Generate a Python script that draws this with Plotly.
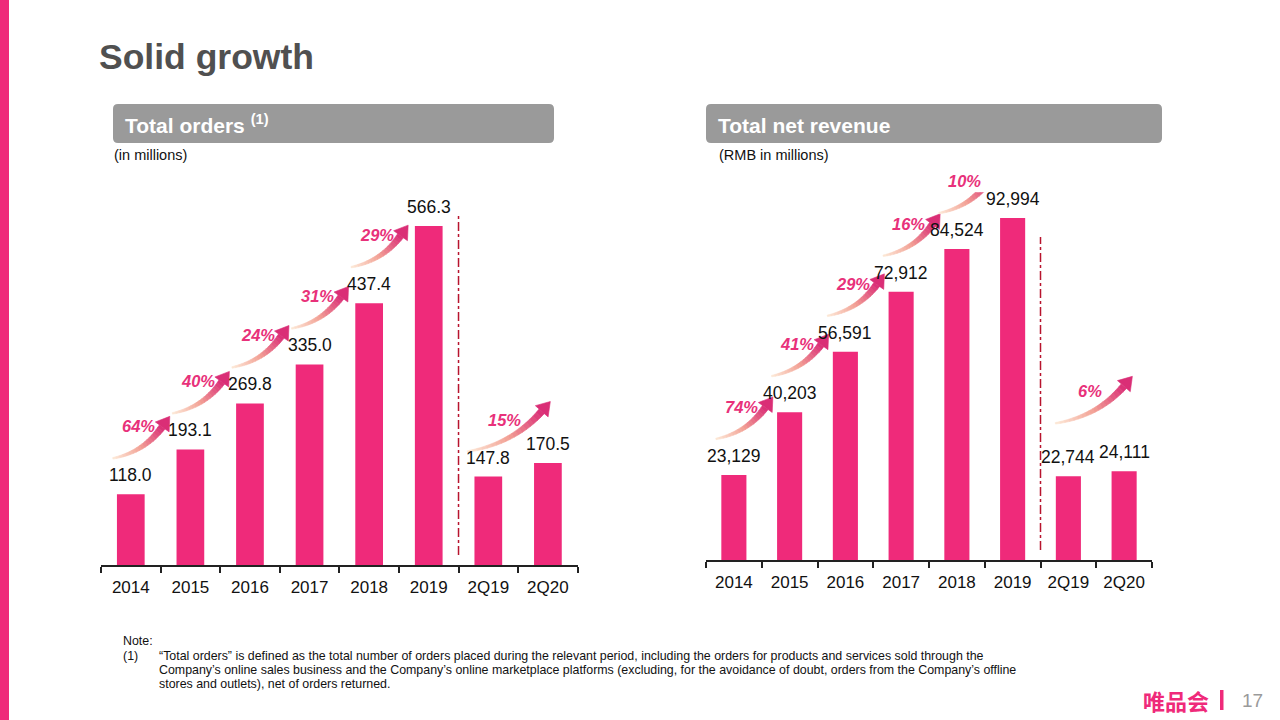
import numpy as np
import plotly.graph_objects as go

W, H = 1280, 720
def px(x): return x / W
def py(y): return 1 - y / H

# ---------------- data ----------------
categories = ["2014", "2015", "2016", "2017", "2018", "2019", "2Q19", "2Q20"]
orders = [118.0, 193.1, 269.8, 335.0, 437.4, 566.3, 147.8, 170.5]
revenue = [23129, 40203, 56591, 72912, 84524, 92994, 22744, 24111]
# growth arrows: (from index, label)
orders_growth_from = [0, 1, 2, 3, 4, 6]
orders_growth_text = ["64%", "40%", "24%", "31%", "29%", "15%"]
revenue_growth_from = [0, 1, 2, 3, 4, 6]
revenue_growth_text = ["74%", "41%", "29%", "16%", "10%", "6%"]

# ---------------- style ----------------
FONT = "Liberation Sans, Arial, Helvetica, sans-serif"
PINK = "#EF2A7A"
PCT_PINK = "#E8317A"
GRAY_BOX = "#9A9A9A"

fig = go.Figure()

fig.add_trace(go.Bar(x=categories, y=orders, marker=dict(color=PINK, line=dict(width=0)),
                     width=0.465, xaxis="x", yaxis="y", hoverinfo="skip"))
fig.add_trace(go.Bar(x=categories, y=revenue, marker=dict(color=PINK, line=dict(width=0)),
                     width=0.45, xaxis="x2", yaxis="y2", hoverinfo="skip"))

annotations = []
shapes = []

# value labels (category axis positions referenced by index)
for i, v in enumerate(orders):
    annotations.append(dict(x=i, y=v, xref="x", yref="y", text=f"{v:.1f}", showarrow=False,
                            yanchor="bottom", yshift=7, font=dict(size=17.5, color="#111", family=FONT)))
for i, v in enumerate(revenue):
    annotations.append(dict(x=i, y=v, xref="x2", yref="y2", text=f"{v:,}", showarrow=False,
                            yanchor="bottom", yshift=7, font=dict(size=17.5, color="#111", family=FONT)))


def lerp_col(t):
    stops = [(0.0, (253, 234, 216)), (0.5, (242, 160, 148)), (1.0, (218, 46, 118))]
    for (t0, c0), (t1, c1) in zip(stops[:-1], stops[1:]):
        if t <= t1:
            f = (t - t0) / (t1 - t0)
            c = [round(a + (b - a) * f) for a, b in zip(c0, c1)]
            return "rgb(%d,%d,%d)" % tuple(c)
    return "rgb(%d,%d,%d)" % stops[-1][1]


def add_arrow(xref, yref, xa, ya, ox, oy, w, h, label, n=18):
    P0 = np.array([ox, oy], float)
    T = np.array([ox + w, oy + h], float)
    C = np.array([ox + 0.55 * w, oy + 0.15 * h], float)
    u = (T - C) / np.linalg.norm(T - C)
    E = T - 13 * u
    ts = np.linspace(0, 1, n + 1)
    pts = [(1 - t) ** 2 * P0 + 2 * (1 - t) * t * C + t ** 2 * E for t in ts]
    tans = [2 * (1 - t) * (C - P0) + 2 * t * (E - C) for t in ts]
    nors = [np.array([-d[1], d[0]]) / np.linalg.norm(d) for d in tans]
    wids = 1.5 + (7.0 - 1.5) * ts
    for k in range(n):
        a = pts[k] + nors[k] * wids[k] / 2
        b = pts[k + 1] + nors[k + 1] * wids[k + 1] / 2
        c = pts[k + 1] - nors[k + 1] * wids[k + 1] / 2
        d = pts[k] - nors[k] * wids[k] / 2
        col = lerp_col((k + 0.5) / n)
        path = "M %.2f,%.2f L %.2f,%.2f L %.2f,%.2f L %.2f,%.2f Z" % (a[0], a[1], b[0], b[1], c[0], c[1], d[0], d[1])
        shapes.append(dict(type="path", path=path, xref=xref, yref=yref, xsizemode="pixel",
                           ysizemode="pixel", xanchor=xa, yanchor=ya, fillcolor=col,
                           line=dict(color=col, width=0.6), layer="above"))
    nE = np.array([-u[1], u[0]])
    a = E + nE * 8.5
    b = E - nE * 8.5
    col = lerp_col(1.0)
    path = "M %.2f,%.2f L %.2f,%.2f L %.2f,%.2f Z" % (T[0], T[1], a[0], a[1], b[0], b[1])
    shapes.append(dict(type="path", path=path, xref=xref, yref=yref, xsizemode="pixel",
                       ysizemode="pixel", xanchor=xa, yanchor=ya, fillcolor=col,
                       line=dict(color=col, width=0.6), layer="above"))
    annotations.append(dict(x=xa, y=ya, xref=xref, yref=yref, text="<b><i>%s</i></b>" % label,
                            showarrow=False, xshift=ox + 0.45 * w, yshift=oy + 32,
                            font=dict(size=16.5, color=PCT_PINK, family=FONT)))


# arrow geometry (pixels): small for annual, big for quarterly comparison
SMALL = dict(ox=-18, oy=36, w=57, h=42)
for i, t in zip(orders_growth_from, orders_growth_text):
    g = SMALL if i < 5 else dict(ox=-21, oy=25, w=83, h=50)
    add_arrow("x", "y", i, orders[i], g["ox"], g["oy"], g["w"], g["h"], t)
for i, t in zip(revenue_growth_from, revenue_growth_text):
    g = SMALL if i < 5 else dict(ox=-13, oy=53, w=77, h=47)
    add_arrow("x2", "y2", i, revenue[i], g["ox"], g["oy"], g["w"], g["h"], t)

# separators (dash-dot) between annual and quarterly, placed in paper space
L_DOM = [px(101), px(577.7)]
R_DOM = [px(706), px(1152)]
def boundary_paper(dom, k, n=len(categories)):
    return dom[0] + (dom[1] - dom[0]) * k / n

shapes.append(dict(type="line", xref="paper", yref="paper", x0=boundary_paper(L_DOM, 6), x1=boundary_paper(L_DOM, 6),
                   y0=py(555), y1=py(213), line=dict(color="#B8142E", width=1.5, dash="dashdot")))
shapes.append(dict(type="line", xref="paper", yref="paper", x0=boundary_paper(R_DOM, 6), x1=boundary_paper(R_DOM, 6),
                   y0=py(550), y1=py(237), line=dict(color="#B8142E", width=1.5, dash="dashdot")))


def rrect(x0, y0, x1, y1, r):
    X = lambda v: "%.5f" % px(v)
    Y = lambda v: "%.5f" % py(v)
    return ("M %s,%s L %s,%s Q %s,%s %s,%s L %s,%s Q %s,%s %s,%s L %s,%s Q %s,%s %s,%s L %s,%s Q %s,%s %s,%s Z" % (
        X(x0 + r), Y(y0), X(x1 - r), Y(y0), X(x1), Y(y0), X(x1), Y(y0 + r),
        X(x1), Y(y1 - r), X(x1), Y(y1), X(x1 - r), Y(y1),
        X(x0 + r), Y(y1), X(x0), Y(y1), X(x0), Y(y1 - r),
        X(x0), Y(y0 + r), X(x0), Y(y0), X(x0 + r), Y(y0)))


shapes.append(dict(type="path", path=rrect(113, 104, 554, 143, 5), xref="paper", yref="paper",
                   fillcolor=GRAY_BOX, line=dict(width=0), layer="below"))
shapes.append(dict(type="path", path=rrect(706, 104, 1162, 143, 5), xref="paper", yref="paper",
                   fillcolor=GRAY_BOX, line=dict(width=0), layer="below"))

# left pink stripe
shapes.append(dict(type="rect", xref="paper", yref="paper", x0=0, x1=px(9), y0=0, y1=1,
                   fillcolor=PINK, line=dict(width=0)))
# logo bar
shapes.append(dict(type="rect", xref="paper", yref="paper", x0=px(1220), x1=px(1223.5), y0=py(710), y1=py(690),
                   fillcolor=PINK, line=dict(width=0)))


def txt(x, y, s, size, color="#111", anchor="left", bold=False, family=FONT):
    annotations.append(dict(x=px(x), y=py(y), xref="paper", yref="paper", text=("<b>%s</b>" % s) if bold else s,
                            showarrow=False, xanchor=anchor, yanchor="middle",
                            font=dict(size=size, color=color, family=family)))


txt(97, 57, "Solid growth", 35.5, "#505050", bold=True)
txt(123, 124, "Total orders <sup>(1)</sup>", 21, "white", bold=True)
txt(716, 125, "Total net revenue", 21, "white", bold=True)
txt(112, 155, "(in millions)", 14.5)
txt(717, 155, "(RMB in millions)", 14.5)

txt(121, 641, "Note:", 12.4)
txt(121, 656, "(1)", 12.4)
txt(157, 656, "“Total orders” is defined as the total number of orders placed during the relevant period, including the orders for products and services sold through the", 12.4)
txt(157, 670, "Company’s online sales business and the Company’s online marketplace platforms (excluding, for the avoidance of doubt, orders from the Company’s offline", 12.4)
txt(157, 684, "stores and outlets), net of orders returned.", 12.4)

txt(1141, 700, "唯品会", 22, PINK, bold=True, family="Noto Sans CJK SC")
txt(1240, 700, "17", 19, "#9A9A9A")

xcommon = dict(type="category", categoryorder="array", categoryarray=categories,
               range=[-0.5, len(categories) - 0.5], autorange=False,
               showline=True, linecolor="#222", linewidth=1.5, ticks="outside",
               tickson="boundaries", ticklen=6, tickwidth=1.5, tickcolor="#222", tickangle=0,
               tickfont=dict(size=17, color="#111", family=FONT), showgrid=False, zeroline=False,
               fixedrange=True, ticklabelstandoff=6)

fig.update_layout(
    width=W, height=H, margin=dict(l=0, r=0, t=0, b=0),
    paper_bgcolor="white", plot_bgcolor="white", showlegend=False,
    font=dict(family=FONT),
    xaxis=dict(domain=L_DOM, anchor="y", **xcommon),
    yaxis=dict(domain=[py(565), py(565) + 359.2 / H], range=[0, 600], autorange=False, visible=False, fixedrange=True),
    xaxis2=dict(domain=R_DOM, anchor="y2", **xcommon),
    yaxis2=dict(domain=[py(560), py(560) + 367.8 / H], range=[0, 100000], autorange=False, visible=False, fixedrange=True),
    annotations=annotations, shapes=shapes,
)

fig.write_html("out.html")
